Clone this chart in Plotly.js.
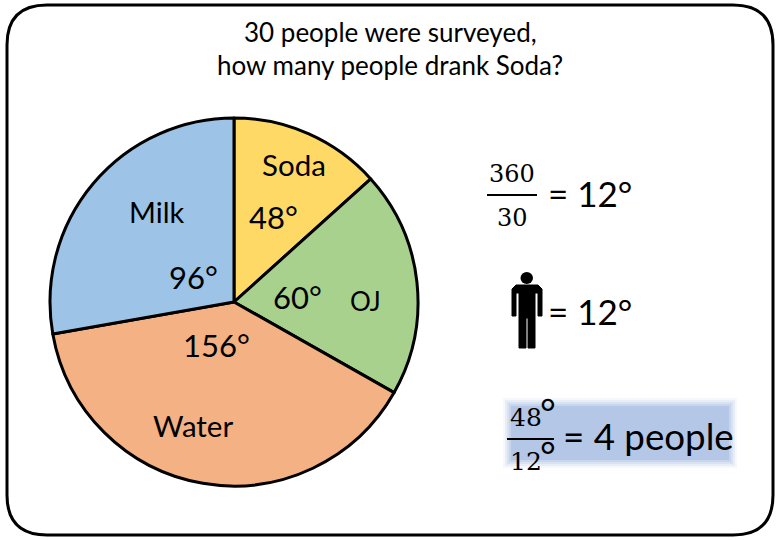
<!DOCTYPE html>
<html><head><meta charset="utf-8">
<script src="https://cdn.plot.ly/plotly-3.0.1.min.js"></script>
<style>html,body{margin:0;padding:0;background:#fff}#c{width:780px;height:540px}</style>
</head><body><div id="c"></div>
<script>
var categories = ["Soda", "OJ", "Water", "Milk"];
var drawnAngles = [48, 71.5, 140.5, 100];
var sliceColors = ["#FFD966", "#A9D18E", "#F4B183", "#9DC3E6"];
var W = 780, H = 540;
function px(x){return x/W;}
function py(y){return 1-y/H;}
var sans = "Lato, Open Sans, sans-serif";
var serif = "DejaVu Serif, serif";

function note(text, x, y, size, family, color){
  return {text:text, x:px(x), y:py(y), xref:"paper", yref:"paper", showarrow:false,
    xanchor:"center", yanchor:"middle", align:"center",
    font:{family:family||sans, size:size, color:color||"#000"}};
}
var annotations = [
  note("30 people were surveyed,", 390, 32, 26),
  note("how many people drank Soda?", 390, 65, 26),
  note("Soda", 294, 164, 29.5),
  note("48°", 273, 217, 31),
  note("Milk", 157, 211, 29),
  note("96°", 193, 277, 31),
  note("60°", 297, 297, 31),
  note("OJ", 365, 301, 26),
  note("156°", 216, 345, 31),
  note("Water", 193, 425, 29.5),
  note("360", 512, 174, 24, serif),
  note("30", 512, 218, 24, serif),
  note("= 12°", 589.5, 193, 35),
  note("= 12°", 589.5, 311, 35),
  note("48", 526, 417, 25, serif),
  note("12", 526, 461, 25, serif),
  note("°", 548, 412, 38, sans),
  note("°", 548, 455, 38, sans),
  note("= 4 people", 648.5, 436, 36.7)
];

function rounded(x0,y0,x1,y1,r){
  var p=function(x,y){return px(x)+","+py(y);};
  return "M"+p(x0+r,y0)+" L"+p(x1-r,y0)+" Q"+p(x1,y0)+" "+p(x1,y0+r)+
    " L"+p(x1,y1-r)+" Q"+p(x1,y1)+" "+p(x1-r,y1)+
    " L"+p(x0+r,y1)+" Q"+p(x0,y1)+" "+p(x0,y1-r)+
    " L"+p(x0,y0+r)+" Q"+p(x0,y0)+" "+p(x0+r,y0)+" Z";
}
function poly(pts){
  return "M"+pts.map(function(q){return px(q[0])+","+py(q[1]);}).join(" L")+" Z";
}
function rect(x0,y0,x1,y1,fill,op){
  return {type:"rect",xref:"paper",yref:"paper",x0:px(x0),x1:px(x1),y0:py(y0),y1:py(y1),
    fillcolor:fill,opacity:op==null?1:op,line:{width:0},layer:"below"};
}
function line(x0,y0,x1,y1,w){
  return {type:"line",xref:"paper",yref:"paper",x0:px(x0),x1:px(x1),y0:py(y0),y1:py(y1),
    line:{color:"#000",width:w},layer:"above"};
}
var shapes = [
  {type:"path",xref:"paper",yref:"paper",path:rounded(7,5,773,535,40),
   fillcolor:"rgba(0,0,0,0)",line:{color:"#000",width:3},layer:"below"},
  rect(503,398,737,468,"#B4C7E7",0.12),
  rect(505,400,735,466,"#B4C7E7",0.2),
  rect(507,402,733,464,"#B4C7E7",0.3),
  rect(509,404,731,462,"#B4C7E7",0.45),
  rect(511,406,729,460,"#B4C7E7",1),
  line(487,195,537,195,2),
  line(507,439,554,439,2),
  {type:"circle",xref:"paper",yref:"paper",x0:px(520.5),x1:px(533),y0:py(284),y1:py(272),
   fillcolor:"#000",line:{width:0},layer:"above"},
  {type:"path",xref:"paper",yref:"paper",layer:"above",fillcolor:"#000",line:{color:"#000",width:1},
   path:poly([[516,285],[538,285],[542,289],[542,316],[538,316],[538,293],[535,293],[535,348],[528,348],[528,318],[526,318],[526,348],[519,348],[519,293],[516,293],[516,316],[512,316],[512,289]])}
];

var trace = {
  type:"pie", labels:categories, values:drawnAngles, sort:false, direction:"clockwise", rotation:0,
  textinfo:"none", hoverinfo:"none", showlegend:false,
  marker:{colors:sliceColors, line:{color:"#000", width:3}},
  domain:{x:[px(50),px(418)], y:[py(486),py(118)]}
};
Plotly.newPlot("c",[trace],{
  width:W,height:H,margin:{l:0,r:0,t:0,b:0},paper_bgcolor:"#fff",showlegend:false,
  annotations:annotations,shapes:shapes
},{displayModeBar:false,staticPlot:true});
</script></body></html>
